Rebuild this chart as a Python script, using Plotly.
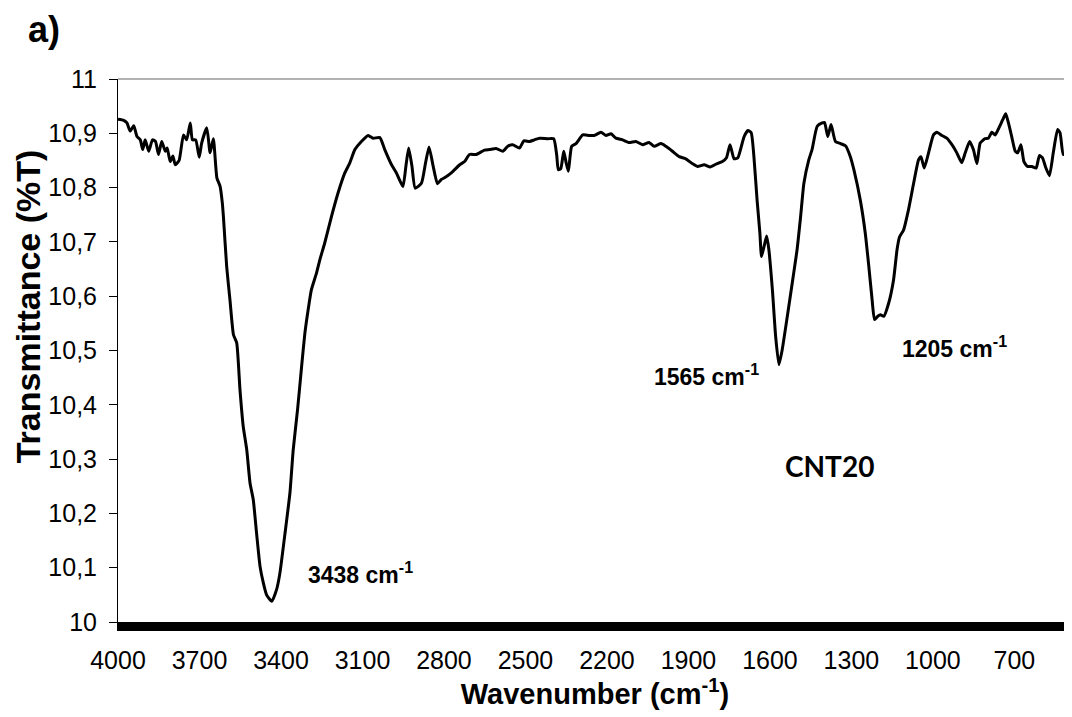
import plotly.graph_objects as go

wavenumber = [4000, 3979, 3967, 3955, 3942, 3930, 3918, 3909, 3900, 3887, 3873, 3862, 3851, 3839, 3826, 3819,
              3808, 3798, 3789, 3775, 3759, 3747, 3734, 3726, 3714, 3701, 3692, 3673, 3661, 3649, 3636, 3624,
              3616, 3612, 3600, 3588, 3575, 3563, 3551, 3539, 3526, 3514, 3502, 3490, 3477, 3465, 3453, 3434,
              3416, 3404, 3385, 3367, 3355, 3339, 3324, 3312, 3300, 3288, 3269, 3257, 3239, 3214, 3190, 3165,
              3147, 3128, 3104, 3079, 3061, 3036, 3018, 2993, 2975, 2951, 2940, 2930, 2918, 2906, 2883, 2868,
              2855, 2840, 2824, 2810, 2798, 2773, 2742, 2724, 2706, 2681, 2651, 2632, 2608, 2583, 2565, 2547,
              2522, 2506, 2485, 2467, 2448, 2418, 2396, 2385, 2379, 2370, 2359, 2350, 2342, 2330, 2314, 2289,
              2265, 2247, 2222, 2204, 2185, 2167, 2143, 2118, 2094, 2069, 2045, 2026, 2001, 1983, 1959, 1934,
              1910, 1885, 1867, 1842, 1820, 1799, 1775, 1760, 1747, 1732, 1718, 1702, 1695, 1681, 1669, 1659,
              1647, 1637, 1631, 1620, 1612, 1604, 1591, 1579, 1567, 1555, 1536, 1518, 1500, 1487, 1475, 1457,
              1445, 1426, 1408, 1399, 1387, 1375, 1359, 1340, 1322, 1304, 1291, 1267, 1249, 1236, 1224, 1215,
              1203, 1193, 1181, 1163, 1145, 1132, 1123, 1108, 1090, 1071, 1053, 1044, 1032, 1016, 998, 985,
              967, 949, 930, 912, 894, 881, 865, 851, 838, 826, 808, 796, 783, 771, 759, 743,
              732, 722, 710, 697, 688, 676, 665, 652, 636, 620, 608, 597, 584, 571, 557, 541,
              532, 520, 505, 493]

transmittance = [10.926, 10.924, 10.919, 10.904, 10.914, 10.894, 10.888, 10.870, 10.888, 10.867, 10.888, 10.885,
                 10.861, 10.885, 10.867, 10.873, 10.848, 10.858, 10.842, 10.850, 10.897, 10.888, 10.919, 10.888,
                 10.888, 10.856, 10.882, 10.910, 10.864, 10.890, 10.818, 10.802, 10.772, 10.747, 10.655, 10.594,
                 10.529, 10.514, 10.428, 10.360, 10.317, 10.256, 10.225, 10.164, 10.102, 10.072, 10.050, 10.038,
                 10.060, 10.090, 10.164, 10.238, 10.317, 10.391, 10.471, 10.532, 10.575, 10.612, 10.643, 10.667,
                 10.698, 10.747, 10.790, 10.827, 10.845, 10.870, 10.885, 10.896, 10.891, 10.892, 10.870, 10.842,
                 10.827, 10.802, 10.840, 10.873, 10.840, 10.799, 10.808, 10.845, 10.875, 10.840, 10.807, 10.815,
                 10.818, 10.827, 10.842, 10.848, 10.861, 10.861, 10.869, 10.870, 10.872, 10.867, 10.876, 10.879,
                 10.873, 10.886, 10.885, 10.888, 10.891, 10.890, 10.890, 10.860, 10.833, 10.835, 10.867, 10.845,
                 10.830, 10.876, 10.881, 10.897, 10.896, 10.896, 10.902, 10.896, 10.899, 10.891, 10.888, 10.883,
                 10.885, 10.879, 10.883, 10.876, 10.881, 10.876, 10.867, 10.857, 10.853, 10.844, 10.839, 10.842,
                 10.838, 10.843, 10.848, 10.855, 10.879, 10.853, 10.855, 10.882, 10.894, 10.905, 10.901, 10.857,
                 10.775, 10.716, 10.673, 10.695, 10.711, 10.686, 10.612, 10.526, 10.474, 10.501, 10.563, 10.624,
                 10.686, 10.747, 10.808, 10.851, 10.870, 10.913, 10.919, 10.920, 10.894, 10.916, 10.885, 10.881,
                 10.877, 10.857, 10.833, 10.776, 10.716, 10.655, 10.594, 10.557, 10.563, 10.566, 10.563, 10.587,
                 10.630, 10.686, 10.709, 10.722, 10.759, 10.808, 10.851, 10.857, 10.836, 10.864, 10.897, 10.902,
                 10.896, 10.891, 10.879, 10.864, 10.846, 10.864, 10.885, 10.870, 10.844, 10.882, 10.890, 10.891,
                 10.902, 10.897, 10.908, 10.925, 10.936, 10.919, 10.894, 10.867, 10.864, 10.879, 10.848, 10.839,
                 10.839, 10.836, 10.859, 10.855, 10.836, 10.822, 10.864, 10.907, 10.901, 10.861, 10.864, 10.922]

x_ticks = [4000, 3700, 3400, 3100, 2800, 2500, 2200, 1900, 1600, 1300, 1000, 700]
y_ticks = [10.0, 10.1, 10.2, 10.3, 10.4, 10.5, 10.6, 10.7, 10.8, 10.9, 11.0]
y_ticktext = ["10", "10,1", "10,2", "10,3", "10,4", "10,5", "10,6", "10,7", "10,8", "10,9", "11"]

peak_labels = ["3438 cm<sup>-1</sup>", "1565 cm<sup>-1</sup>", "1205 cm<sup>-1</sup>"]
peak_label_x = [3309, 2035, 1123]
peak_label_y = [10.091, 10.455, 10.507]

FONT = "Liberation Sans, Arial, sans-serif"

fig = go.Figure()
fig.add_trace(go.Scatter(
    x=wavenumber, y=transmittance, mode="lines",
    line=dict(color="black", width=3, shape="spline", smoothing=0.5),
    showlegend=False, hoverinfo="skip"))

# page body has an 8px offset, so the figure is 8px smaller and left/top margins 8px smaller
fig.update_layout(
    width=1064, height=709,
    margin=dict(l=110, r=0, t=71, b=95, autoexpand=False),
    paper_bgcolor="white", plot_bgcolor="white",
    font=dict(family=FONT, color="black"),
    showlegend=False,
)

fig.update_xaxes(
    range=[4000, 488], tickvals=x_ticks, ticktext=[str(v) for v in x_ticks],
    showgrid=False, zeroline=False, showline=True, linecolor="black", linewidth=9,
    ticks="", tickfont=dict(size=25, family=FONT), ticklabelstandoff=8, automargin=False,
    title=dict(text="<b>Wavenumber (cm<sup>-1</sup>)</b>", font=dict(size=29, family=FONT), standoff=0),
)
fig.update_yaxes(
    range=[10, 11], tickvals=y_ticks, ticktext=y_ticktext,
    showgrid=False, zeroline=False, showline=True, linecolor="black", linewidth=1,
    ticks="outside", ticklen=8, tickcolor="black", tickwidth=1,
    tickfont=dict(size=25, family=FONT), ticklabelstandoff=7, automargin=False,
)

# top border
fig.add_shape(type="line", xref="paper", yref="paper", x0=0, x1=1, y0=1, y1=1,
              line=dict(color="#999999", width=1.5))

# y-axis title (placed slightly above centre as in the reference)
fig.add_annotation(x=-0.0940, y=0.582, xref="paper", yref="paper", text="<b>Transmittance (%T)</b>",
                   textangle=-90, showarrow=False, xanchor="center", yanchor="middle",
                   font=dict(size=34, family=FONT, color="black"))

for txt, px, py in zip(peak_labels, peak_label_x, peak_label_y):
    fig.add_annotation(x=px, y=py, xref="x", yref="y", text="<b>" + txt + "</b>",
                       showarrow=False, xanchor="left", yanchor="middle",
                       font=dict(size=23, family=FONT, color="black"))

fig.add_annotation(x=1381, y=10.288, xref="x", yref="y", text="<b>CNT20</b>",
                   showarrow=False, xanchor="center", yanchor="middle",
                   font=dict(size=28, family="Lato, Open Sans, sans-serif", color="black"))

fig.add_annotation(x=-0.0964, y=1.092, xref="paper", yref="paper", text="<b>a)</b>",
                   showarrow=False, xanchor="left", yanchor="middle",
                   font=dict(size=36, family=FONT, color="black"))

fig.write_html("out.html")
